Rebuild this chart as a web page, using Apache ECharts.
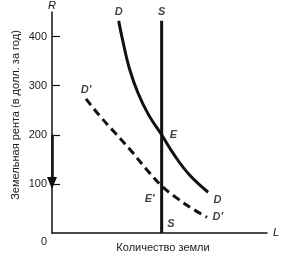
<!DOCTYPE html>
<html><head><meta charset="utf-8">
<script src="https://cdn.jsdelivr.net/npm/echarts@6/dist/echarts.min.js"></script>
<style>html,body{margin:0;padding:0;background:#fff}#c{width:291px;height:255px}</style>
</head><body><div id="c"></div>
<script>
const yTicks = [100, 200, 300, 400];
const dX = [31, 33, 36, 40, 45, 51, 57, 64, 72.6];
const dY = [432, 390, 335, 285, 240, 200, 158, 118, 83];
const d2X = [15.8, 22.3, 29.3, 36.3, 43.7, 51, 58.1, 65.1, 72.1];
const d2Y = [273, 238, 204, 170, 131, 96, 71, 50, 32];
const sX = 51;
const sY = [0, 432];
const eqX = [51, 51];
const eqY = [200, 96];
const eqNames = ['E', "E'"];
const arrowY = [200, 102];
const yTitle = 'Земельная рента (в долл. за год)';
const xTitle = 'Количество земли';

const lblStyle = {fontFamily: 'Liberation Sans, Arial, sans-serif', fontStyle: 'italic', fontWeight: 'bold', fontSize: 11, color: '#111'};
const pair = (xs, ys) => xs.map((x, i) => [x, ys[i]]);
const last = a => a[a.length - 1];
function lbl(x, y, text, pos) {
  return {value: [x, y], label: Object.assign({show: true, formatter: text}, lblStyle, pos)};
}
const chart = echarts.init(document.getElementById('c'));
chart.setOption({
  backgroundColor: '#fff',
  animation: false,
  grid: {left: 52, right: 24, top: 10, bottom: 22},
  xAxis: {type: 'value', min: 0, max: 100, axisLine: {show: true, lineStyle: {color: '#111', width: 1.5}},
    axisTick: {show: false}, axisLabel: {show: false}, splitLine: {show: false},
    name: 'L', nameLocation: 'end', nameGap: 6,
    nameTextStyle: {fontFamily: 'Liberation Sans, Arial, sans-serif', fontStyle: 'italic', fontSize: 11, color: '#111', verticalAlign: 'middle'}},
  yAxis: {type: 'value', min: 0, max: 450, axisLine: {show: true, lineStyle: {color: '#111', width: 1.5}},
    axisTick: {show: true, inside: true, length: 8, customValues: yTicks, lineStyle: {color: '#111', width: 1.2}},
    axisLabel: {show: true, customValues: yTicks, margin: 5, fontFamily: 'Liberation Sans, Arial, sans-serif', fontSize: 11, color: '#222'},
    splitLine: {show: false},
    name: 'R', nameLocation: 'end', nameGap: 1,
    nameTextStyle: {fontFamily: 'Liberation Sans, Arial, sans-serif', fontStyle: 'italic', fontSize: 11, color: '#111', align: 'center'}},
  series: [
    {type: 'line', smooth: 0.4, symbol: 'none', lineStyle: {color: '#111', width: 3}, data: pair(dX, dY)},
    {type: 'line', smooth: 0.4, symbol: 'none', lineStyle: {color: '#111', width: 3, type: [8, 5]}, data: pair(d2X, d2Y)},
    {type: 'line', symbol: 'none', lineStyle: {color: '#111', width: 3}, data: [[sX, sY[0]], [sX, sY[1]]]},
    {type: 'scatter', symbolSize: 4, itemStyle: {color: '#ddd'},
      data: eqX.map((x, i) => lbl(x, eqY[i], eqNames[i],
        i === 0 ? {position: 'right', distance: 6} : {position: 'left', distance: 5, offset: [0, 13]}))},
    {type: 'scatter', symbolSize: 1, itemStyle: {color: 'rgba(0,0,0,0)'}, silent: true,
      data: [
        lbl(dX[0], dY[0], 'D', {position: 'top', distance: 3}),
        lbl(last(dX), last(dY), 'D', {position: 'right', distance: 5, offset: [0, 8]}),
        lbl(d2X[0], d2Y[0], "D'", {position: 'top', distance: 3}),
        lbl(last(d2X), last(d2Y), "D'", {position: 'right', distance: 5}),
        lbl(sX, sY[1], 'S', {position: 'top', distance: 3}),
        lbl(sX, sY[0], 'S', {position: 'right', distance: 5, offset: [0, -9]})
      ]},
    {type: 'line', symbol: 'none', lineStyle: {opacity: 0}, data: [],
      markLine: {silent: true, symbol: ['none', 'triangle'], symbolSize: [10, 12], label: {show: false},
        lineStyle: {color: '#111', width: 2.5, type: 'solid'},
        data: [[{coord: [0, arrowY[0]]}, {coord: [0, arrowY[1]]}]]}}
  ],
  graphic: [
    {type: 'text', x: 16, y: 115, rotation: Math.PI / 2,
      style: {text: yTitle, fontFamily: 'Liberation Sans, Arial, sans-serif', fontSize: 11, fill: '#222', align: 'center', verticalAlign: 'middle'}},
    {type: 'text', x: 163, y: 248,
      style: {text: xTitle, fontFamily: 'Liberation Sans, Arial, sans-serif', fontSize: 11, fill: '#222', align: 'center', verticalAlign: 'middle'}},
    {type: 'text', x: 44, y: 242,
      style: {text: '0', fontFamily: 'Liberation Sans, Arial, sans-serif', fontSize: 11, fill: '#222', align: 'center', verticalAlign: 'middle'}}
  ]
});
</script></body></html>
